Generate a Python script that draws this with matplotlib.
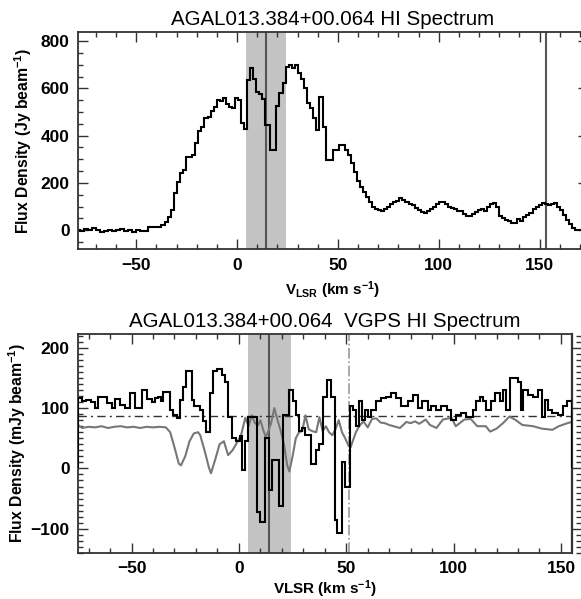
import matplotlib
matplotlib.use('Agg')
import matplotlib.pyplot as plt
from matplotlib.ticker import MultipleLocator

# ---- top panel: HI spectrum (step histogram, left bin edges) ----
hi_vel = [-80, -78, -76, -74, -72, -70, -68, -66, -64, -62,
          -60, -58, -56, -54, -52, -50, -48, -46, -44, -42,
          -40, -38, -36, -34.5, -33, -31.5, -30, -28.5, -27, -25.5,
          -22.5, -21, -19.5, -18, -16.5, -14.5, -13, -11.5, -10, -8.5,
          -7, -5.5, -4, -2.5, -1, 0.5, 2, 3.5, 5, 6.5,
          8, 9.5, 11, 12.5, 14, 16.5, 19.5, 21, 22.5, 24,
          25.5, 27, 28.5, 30, 31.5, 33, 34.5, 36, 37.5, 39,
          40.5, 42.5, 44, 46, 47.5, 49, 50.5, 52, 53.5, 55,
          56.5, 58, 59.5, 61, 62.5, 64, 65.5, 67, 68.5, 70,
          71.5, 73, 74.5, 76, 77.5, 79, 80.5, 82, 83.5, 85,
          86.5, 88, 89.5, 91, 92.5, 94, 95.5, 97, 98.5, 100,
          101.5, 103, 104.5, 106, 107.5, 109, 110.5, 112, 113.5, 115,
          116.5, 118, 119.5, 121, 122.5, 124, 125.5, 127, 128.5, 130,
          131.5, 133, 134.5, 136, 137.5, 139, 140.5, 142, 143.5, 145,
          146.5, 148, 149.5, 151, 152.5, 154, 155.5, 157, 158.5, 160,
          161.5, 163, 164.5, 166, 167.5, 169]
hi_flux = [2, -5, 4, 0, 8, 0, -8, -3, 2, -5,
           3, 5, -2, 0, -8, 3, -5, -3, 15, 12,
           15, 22, 35, 55, 85, 158, 205, 240, 255, 310,
           318, 367, 420, 438, 475, 480, 505, 520, 552, 545,
           560, 535, 520, 515, 558, 552, 452, 428, 635, 685,
           640, 585, 575, 555, 445, 338, 525, 580, 622, 690,
           700, 688, 700, 665, 640, 600, 540, 515, 475, 425,
           565, 436, 297, 298, 340, 338, 360, 362, 340, 318,
           285, 245, 210, 183, 160, 140, 118, 98, 88, 85,
           82, 88, 100, 113, 120, 125, 135, 130, 120, 113,
           105, 95, 85, 78, 73, 80, 92, 100, 112, 120,
           120, 110, 100, 95, 90, 80, 82, 70, 62, 60,
           68, 78, 85, 92, 80, 100, 112, 115, 100, 62,
           50, 45, 38, 30, 31, 48, 40, 55, 65, 75,
           88, 98, 108, 116, 112, 105, 112, 116, 100, 85,
           65, 42, 25, 8, 0, 3]
hi_vel_end = 174

# ---- bottom panel: VGPS HI absorption spectrum ----
vgps_vel = [-75, -73, -71, -69, -67, -65.5, -61.6, -59.3, -57.7, -55.4,
            -53, -50.7, -48.4, -45.3, -43, -40.6, -39, -37.5, -36.3, -35.3,
            -32, -30.6, -29, -27.5, -26, -24.5, -22, -20.8, -18.2, -16.8,
            -15.2, -13.5, -12, -10.4, -8, -6.5, -5, -3.2, -1.5, 0.3,
            1.3, 3, 4.3, 8.6, 9.8, 12.3, 14, 15.6, 18.8, 20.5,
            23.5, 25.2, 26.6, 28, 29.5, 31, 33.6, 35.8, 37.3, 39,
            41, 43, 44.6, 45.8, 47.8, 49.3, 51.6, 53, 54.5, 55.8,
            57.2, 58.7, 59.9, 61.6, 63.7, 66.4, 68.7, 70.9, 73.4, 75.7,
            78.8, 81.2, 83.5, 85.1, 88.2, 89.7, 92, 94.3, 96.7, 99,
            101.3, 103.6, 106, 109, 110.4, 112.2, 113.7, 115.3, 117.6, 119.1,
            121.4, 123, 124.5, 126.1, 130, 131.5, 132.3, 134.7, 137, 139.4,
            141, 142.5, 144, 145.6, 148.7, 151, 152.6]
vgps_flux = [117, 112, 114, 110, 100, 118, 108, 100, 115, 105,
             100, 125, 100, 130, 115, 110, 116, 119, 111, 126,
             97, 89, 84, 114, 135, 161, 114, 103, 97, 78,
             61, 125, 161, 164, 155, 144, 86, 51, 45, 53,
             -2, 45, 86, -72, -88, 50, -35, 14, -62, 88,
             130, 111, 89, 62, 67, 56, 8, 31, 40, 119,
             146, 119, -85, -107, 11, -30, 103, 97, 70, 111,
             81, 97, 86, 97, 111, 116, 119, 125, 116, 103,
             111, 122, 100, 111, 97, 103, 97, 103, 97, 81,
             89, 92, 86, 97, 111, 119, 111, 97, 111, 125,
             111, 130, 97, 150, 144, 97, 130, 122, 119, 130,
             86, 114, 97, 92, 89, 103, 111]
vgps_vel_end = 155

# emission (off-source) spectrum, smooth grey curve
em_vel = [-75, -73, -70, -67, -64, -61, -58, -55, -52, -49, -46, -43, -40, -37,
          -34, -32, -30, -28, -27, -25, -23, -21, -19, -18, -16, -14, -13, -11,
          -9, -7, -5, -3, -1, 1, 3, 4.5, 6, 7.5, 9, 10, 11.5, 12.5, 13.5, 15,
          16.5, 18, 19.5, 21, 22.5, 23.5, 25, 26.5, 28, 29.5, 31, 32.5, 34, 36,
          37.5, 39, 40.5, 42, 43.5, 45, 46.5, 48, 49.5, 51, 52, 53, 54.5, 56,
          58, 60, 62, 64, 66, 68, 70, 72, 75, 78, 80, 82, 84, 87, 89, 92, 95,
          99, 101, 105, 108, 111, 115, 117, 120, 123, 126, 129, 132, 137, 141,
          146, 149, 153, 155]
em_flux = [72, 67, 69, 68, 70, 67, 69, 70, 68, 69, 67, 69, 68, 69,
           68, 60, 35, 8, 5, 20, 45, 58, 60, 55, 30, 2, -8, 15,
           40, 45, 22, 30, 42, 55, 84, 70, 88, 75, 72, 80, 62, 52, 60, 75,
           100, 80, 62, 40, 5, -5, 20, 50, 60, 62, 88, 65, 62, 60,
           85, 62, 70, 60, 55, 65, 80, 60, 50, 38, 35, 45, 60, 70,
           78, 68, 82, 83, 76, 75, 72, 70, 67, 77, 75, 78, 74, 81, 72, 67, 81,
           84, 70, 81, 82, 70, 70, 61, 66, 75, 86, 80, 72, 70, 66,
           64, 70, 75, 77]

band = (4.3, 24.2)
source_vel = 14.2
top_marker_vel = 153.3
tangent_vel = 51.4
noise_level = 87

plt.rcParams['font.family'] = ['Liberation Sans', 'DejaVu Sans']
plt.rcParams['mathtext.fontset'] = 'custom'
plt.rcParams['mathtext.rm'] = 'Liberation Sans:bold'
plt.rcParams['mathtext.default'] = 'rm'

fig = plt.figure(figsize=(5.81, 5.99), dpi=100)


def style_axes(ax):
    for s in ax.spines.values():
        s.set_linewidth(1.3)
        s.set_color('#333333')
    ax.tick_params(which='both', direction='in', top=True, right=True,
                   width=1.0, color='#333333')
    ax.tick_params(which='major', length=7, labelsize=12.5, pad=6)
    ax.tick_params(which='minor', length=3.5)
    for lab in ax.get_xticklabels() + ax.get_yticklabels():
        lab.set_fontweight('bold')


# top panel
ax1 = fig.add_axes([0.134, 0.584, 0.878, 0.3625])
ax1.axvspan(band[0], band[1], color='#c4c4c4', lw=0, zorder=0)
ax1.axvline(source_vel, color='#555555', lw=1.5, zorder=1)
ax1.axvline(top_marker_vel, color='#555555', lw=1.5, zorder=1)
ax1.stairs(hi_flux, hi_vel + [hi_vel_end], color='black', lw=1.5, zorder=2)
ax1.set_xlim(-79, 174)
ax1.set_ylim(-80, 838)
ax1.xaxis.set_major_locator(MultipleLocator(50))
ax1.xaxis.set_minor_locator(MultipleLocator(10))
ax1.yaxis.set_major_locator(MultipleLocator(200))
ax1.yaxis.set_minor_locator(MultipleLocator(50))
style_axes(ax1)
ax1.set_title('AGAL013.384+00.064 HI Spectrum', fontsize=14.8, pad=5)
ax1.set_xlabel('V$_{LSR}$ (km s$^{-1}$)', fontsize=11, fontweight='bold')
ax1.set_ylabel('Flux Density (Jy beam$^{-1}$)', fontsize=11.3, fontweight='bold')
ax1.yaxis.set_label_coords(-0.085, 0.5)
ax1.xaxis.set_label_coords(0.5, -0.14)

# bottom panel
ax2 = fig.add_axes([0.134, 0.077, 0.850, 0.3656])
ax2.axvspan(band[0], band[1], color='#c4c4c4', lw=0, zorder=0)
ax2.axvline(source_vel, color='#555555', lw=1.5, zorder=1)
ax2.axvline(tangent_vel, color='#999999', lw=1.2, ls='-.', zorder=1)
ax2.axhline(noise_level, color='#333333', lw=1.0, ls=(0, (6, 3, 1.5, 3)), zorder=1)
ax2.plot(em_vel, em_flux, color='#777777', lw=1.5, zorder=2)
ax2.stairs(vgps_flux, vgps_vel + [vgps_vel_end], color='black', lw=1.5, zorder=3)
ax2.set_xlim(-75, 155)
ax2.set_ylim(-140, 223)
ax2.xaxis.set_major_locator(MultipleLocator(50))
ax2.xaxis.set_minor_locator(MultipleLocator(10))
ax2.yaxis.set_major_locator(MultipleLocator(100))
ax2.yaxis.set_minor_locator(MultipleLocator(10))
style_axes(ax2)
ax2.tick_params(which='both', right=False)
ax2.set_title('AGAL013.384+00.064  VGPS HI Spectrum', fontsize=14.8, pad=5)
ax2.set_xlabel('VLSR (km s$^{-1}$)', fontsize=11, fontweight='bold')
ax2.set_ylabel('Flux Density (mJy beam$^{-1}$)', fontsize=11.3, fontweight='bold')
ax2.yaxis.set_label_coords(-0.10, 0.5)
ax2.xaxis.set_label_coords(0.5, -0.115)

# extra right-hand axis box with dense ticks
ax2r = ax2.twinx()
ax2r.set_ylim(ax2.get_ylim())
ax2r.spines['right'].set_position(('outward', 8))
ax2r.spines['right'].set_linewidth(1.3)
ax2r.spines['right'].set_color('#333333')
for s in ['left', 'top', 'bottom']:
    ax2r.spines[s].set_visible(False)
ax2r.yaxis.set_major_locator(MultipleLocator(100))
ax2r.yaxis.set_minor_locator(MultipleLocator(10))
ax2r.tick_params(which='both', direction='in', labelright=False, width=1.0,
                 color='#333333')
ax2r.tick_params(which='major', length=8)
ax2r.tick_params(which='minor', length=5)
ax2.spines['right'].set_linewidth(1.6)

fig.savefig('out.png', dpi=100)
